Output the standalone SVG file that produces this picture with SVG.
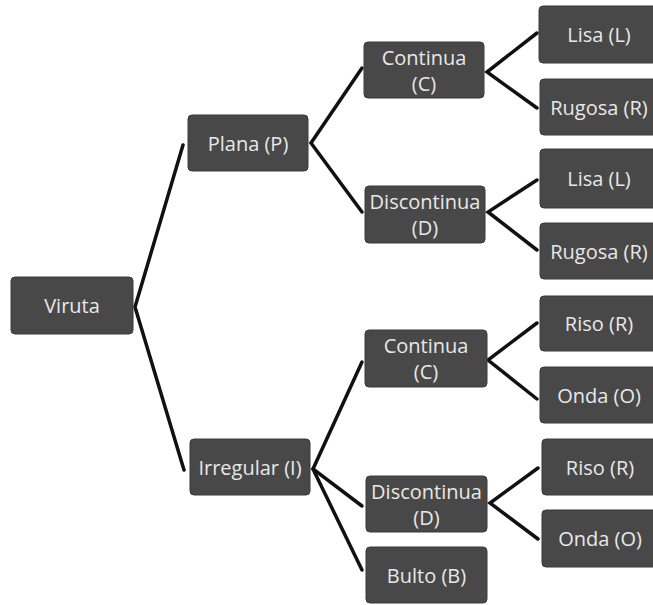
<svg xmlns="http://www.w3.org/2000/svg" width="653" height="605" viewBox="0 0 653 605">
<style>
.box{fill:#484848;stroke:#3a3a3a;stroke-width:1}
.t{font-family:"Open Sans","Liberation Sans",Arial,sans-serif;font-size:20px;fill:#e8e8e8;text-anchor:middle}
.c{fill:none;stroke:#111;stroke-width:3.5;stroke-linejoin:miter;stroke-linecap:round}
</style>
<rect width="653" height="605" fill="#ffffff"/>
<g id="connectors">
<polyline class="c" points="183,145 135,307 184,470"/>
<polyline class="c" points="362,68 311,143 362,212"/>
<polyline class="c" points="537,33 487,72 537,108"/>
<polyline class="c" points="537,180 488,212 537,250"/>
<polyline class="c" points="362,362 313,469 362,506"/>
<line class="c" x1="313" y1="469" x2="362" y2="570"/>
<polyline class="c" points="537,323 488,360 537,399"/>
<polyline class="c" points="538,468 490,503 538,539"/>
</g>
<g id="viruta"><rect class="box" x="11" y="277" width="122" height="57" rx="4"/><text class="t" x="72" y="313">Viruta</text></g>
<g id="plana"><rect class="box" x="188" y="115" width="120" height="56" rx="4"/><text class="t" x="248" y="150.5">Plana (P)</text></g>
<g id="irregular"><rect class="box" x="190" y="439" width="120" height="56" rx="4"/><text class="t" x="250" y="474.5">Irregular (I)</text></g>
<g id="continua1"><rect class="box" x="364" y="42" width="120" height="56" rx="4"/><text class="t" x="424" y="64.5">Continua</text><text class="t" x="424" y="90.5">(C)</text></g>
<g id="discontinua1"><rect class="box" x="365" y="186" width="120" height="57" rx="4"/><text class="t" x="425" y="208.5">Discontinua</text><text class="t" x="425" y="234.5">(D)</text></g>
<g id="continua2"><rect class="box" x="365" y="330" width="122" height="57" rx="4"/><text class="t" x="426" y="352.5">Continua</text><text class="t" x="426" y="378.5">(C)</text></g>
<g id="discontinua2"><rect class="box" x="366" y="476" width="121" height="56" rx="4"/><text class="t" x="426.5" y="498.5">Discontinua</text><text class="t" x="426.5" y="524.5">(D)</text></g>
<g id="bulto"><rect class="box" x="366" y="547" width="121" height="56" rx="4"/><text class="t" x="426.5" y="582.5">Bulto (B)</text></g>
<g id="lisa1"><rect class="box" x="539" y="6" width="120" height="57" rx="4"/><text class="t" x="599" y="42">Lisa (L)</text></g>
<g id="rugosa1"><rect class="box" x="540" y="79" width="120" height="56" rx="4"/><text class="t" x="599" y="114.5">Rugosa (R)</text></g>
<g id="lisa2"><rect class="box" x="540" y="149" width="120" height="59" rx="4"/><text class="t" x="599" y="186">Lisa (L)</text></g>
<g id="rugosa2"><rect class="box" x="540" y="223" width="120" height="56" rx="4"/><text class="t" x="599" y="258.5">Rugosa (R)</text></g>
<g id="riso1"><rect class="box" x="540" y="296" width="120" height="55" rx="4"/><text class="t" x="599" y="331">Riso (R)</text></g>
<g id="onda1"><rect class="box" x="540" y="367" width="120" height="56" rx="4"/><text class="t" x="599" y="402.5">Onda (O)</text></g>
<g id="riso2"><rect class="box" x="542" y="439" width="120" height="56" rx="4"/><text class="t" x="600" y="474.5">Riso (R)</text></g>
<g id="onda2"><rect class="box" x="542" y="510" width="120" height="57" rx="4"/><text class="t" x="600" y="546">Onda (O)</text></g>
</svg>
